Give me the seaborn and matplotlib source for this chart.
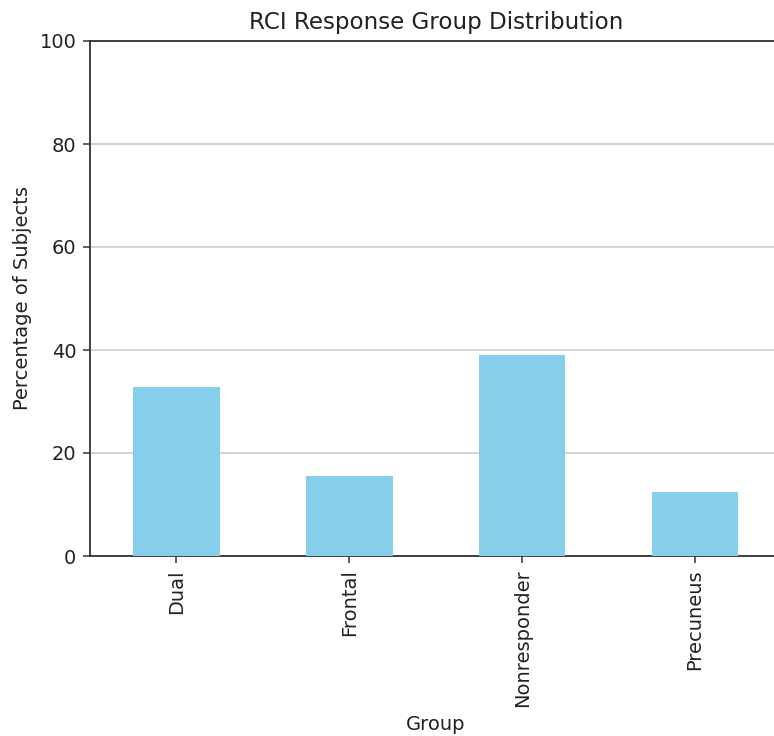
import matplotlib
matplotlib.use("Agg")
import matplotlib.pyplot as plt
import seaborn as sns
import pandas as pd

groups = ["Dual", "Frontal", "Nonresponder", "Precuneus"]
percentages = [32.8, 15.6, 39.1, 12.5]

df = pd.DataFrame({"Group": groups, "Percentage": percentages})

sns.set_style("white")
plt.rcParams["font.family"] = ["DejaVu Sans"]

s = 1.4
fig = plt.figure(figsize=(7.74, 7.36), dpi=100)
ax = fig.add_axes([90 / 774, 1 - 556 / 736, 691.5 / 774, (556 - 41) / 736])

sns.barplot(data=df, x="Group", y="Percentage", color="#87CEEB", width=0.5,
            saturation=1, linewidth=0, ax=ax, zorder=3)

ax.set_ylim(0, 100)
ax.set_xlim(-0.5, len(groups) - 0.5)
ax.yaxis.grid(True, color="#cccccc", linewidth=1.2, zorder=0)
ax.set_axisbelow(True)
for sp in ax.spines.values():
    sp.set_color("#333333")
    sp.set_linewidth(1.3)
    sp.set_visible(True)

ax.tick_params(axis="both", which="major", labelsize=10 * s, length=3.5 * s,
               width=1.1, pad=3.5 * s, color="#333333", labelcolor="#222222",
               bottom=True, left=True)
ax.set_yticks([0, 20, 40, 60, 80, 100])
plt.setp(ax.get_xticklabels(), rotation=90)

ax.set_title("RCI Response Group Distribution", fontsize=11.8 * s, color="#222222", pad=6 * s)
ax.set_xlabel("Group", fontsize=10 * s, color="#222222", labelpad=4 * s)
ax.set_ylabel("Percentage of Subjects", fontsize=10 * s, color="#222222", labelpad=4 * s)

fig.savefig("out.png", dpi=100)
